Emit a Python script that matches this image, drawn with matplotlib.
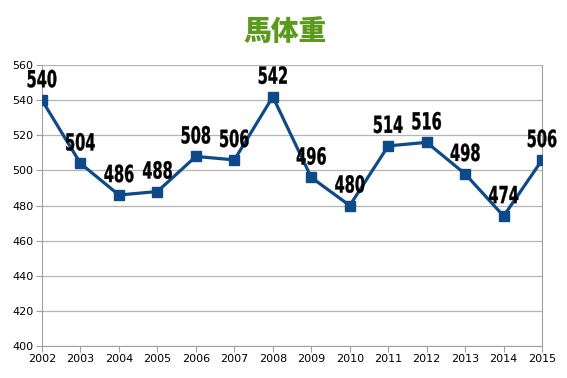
import matplotlib.pyplot as plt
from matplotlib.textpath import TextPath
from matplotlib.patches import PathPatch
from matplotlib.font_manager import FontProperties
from matplotlib.transforms import Affine2D, ScaledTranslation

years = [2002, 2003, 2004, 2005, 2006, 2007, 2008, 2009, 2010, 2011, 2012, 2013, 2014, 2015]
weights = [540, 504, 486, 488, 508, 506, 542, 496, 480, 514, 516, 498, 474, 506]

fig = plt.figure(figsize=(5.67, 3.78), dpi=100)
ax = fig.add_axes([0.0741, 0.0847, 0.882, 0.743])

ax.plot(years, weights, color='#0d4a87', linewidth=2.3, marker='s',
        markersize=7.5, zorder=3)

ax.set_xlim(2002, 2015)
ax.set_ylim(400, 560)

# condensed bold data labels: squeeze DejaVu Sans Bold horizontally
label_font = FontProperties(family='DejaVu Sans', weight='bold')
for x, y in zip(years, weights):
    tp = TextPath((0, 0), str(y), size=23.5, prop=label_font)
    bb = tp.get_extents()
    tr = (Affine2D().translate(-(bb.x0 + bb.width / 2), 0).scale(0.62, 1.0)
          .translate(0, 13) + ScaledTranslation(x, y, ax.transData))
    ax.add_artist(PathPatch(tp, transform=tr, facecolor='black',
                            edgecolor='black', linewidth=0.25, zorder=4,
                            clip_on=False))

ax.set_xticks(years)
ax.set_yticks(range(400, 561, 20))
ax.tick_params(axis='both', labelsize=8, length=4, color='#a0a0a0', pad=2)
ax.grid(axis='y', color='#b4b4b4', linewidth=0.9)
ax.set_axisbelow(True)
for side in ['left', 'right', 'bottom']:
    ax.spines[side].set_color('#a0a0a0')
ax.spines['top'].set_visible(False)

fig.text(0.503, 0.915, '馬体重', ha='center', va='center', fontsize=20,
         fontweight='heavy', color='#5a9a1c',
         family=['Noto Sans CJK JP', 'DejaVu Sans'])

fig.savefig('out.png', dpi=100)
